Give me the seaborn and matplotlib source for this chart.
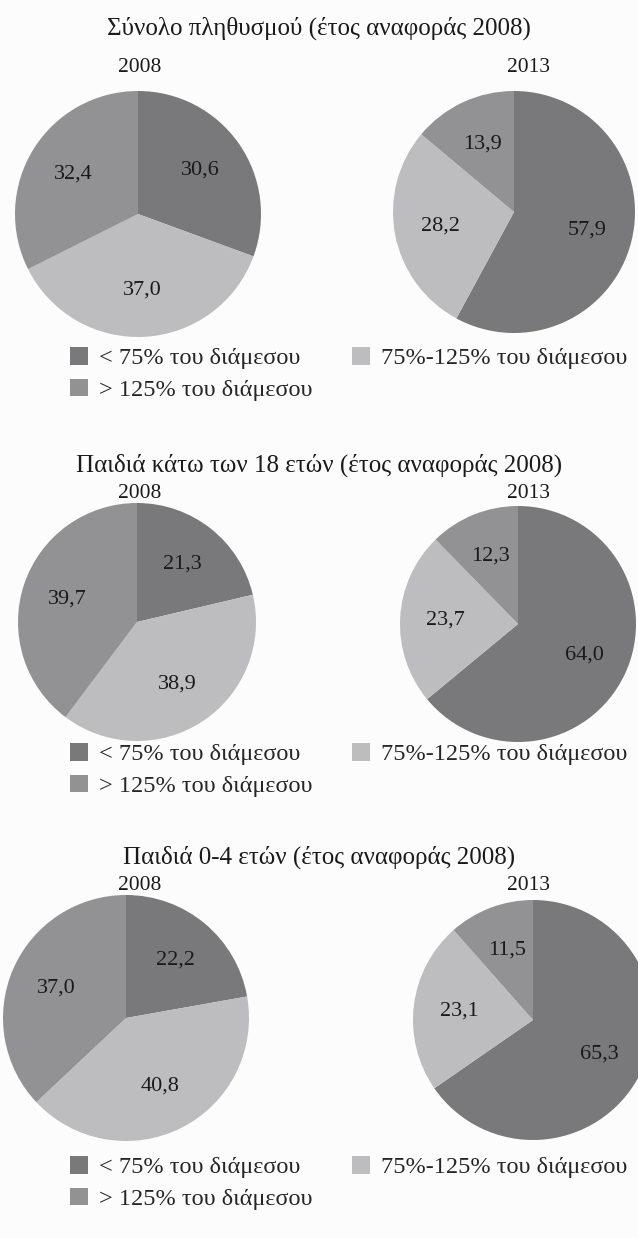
import numpy as np
import matplotlib
matplotlib.use('Agg')
import matplotlib.pyplot as plt
import seaborn as sns
from matplotlib.patches import Patch

# data
titles = ['Σύνολο πληθυσμού (έτος αναφοράς 2008)',
          'Παιδιά κάτω των 18 ετών (έτος αναφοράς 2008)',
          'Παιδιά 0-4 ετών (έτος αναφοράς 2008)']
years = ['2008', '2013']
categories = ['< 75% του διάμεσου', '75%-125% του διάμεσου', '> 125% του διάμεσου']
shares_2008 = [[30.6, 37.0, 32.4],
               [21.3, 38.9, 39.7],
               [22.2, 40.8, 37.0]]
shares_2013 = [[57.9, 28.2, 13.9],
               [64.0, 23.7, 12.3],
               [65.3, 23.1, 11.5]]

sns.set_theme(style='white')
plt.rcParams['font.family'] = ['Liberation Serif', 'DejaVu Serif']

colors = ['#79797c', '#bdbdbf', '#929295']
W, H = 638, 1238

# layout in pixels: title y, year label y, pie centres (x, y, r), legend top y
layout = [
    dict(title_y=28, year_y=68, pies=[(138, 214, 123), (514, 212, 121)], leg_y=347),
    dict(title_y=465, year_y=493, pies=[(137, 622, 119), (518, 624, 118)], leg_y=743),
    dict(title_y=857, year_y=885, pies=[(126, 1018, 123), (533, 1020, 120)], leg_y=1156),
]
year_x = [140, 528]

fig = plt.figure(figsize=(W / 100, H / 100), dpi=100)
fig.patch.set_facecolor('#fcfcfc')


def px_axes(cx, cy, r):
    return fig.add_axes([(cx - r) / W, 1 - (cy + r) / H, 2 * r / W, 2 * r / H])


def fmt(v):
    return f'{v:.1f}'.replace('.', ',')


for i, lay in enumerate(layout):
    fig.text(0.5, 1 - lay['title_y'] / H, titles[i], ha='center', va='center', fontsize=18, color='#1a1a1a')
    for j, vals in enumerate([shares_2008[i], shares_2013[i]]):
        fig.text(year_x[j] / W, 1 - lay['year_y'] / H, years[j], ha='center', va='center',
                 fontsize=15.5, color='#1a1a1a')
        cx, cy, r = lay['pies'][j]
        ax = px_axes(cx, cy, r)
        it = iter(vals)
        wedges, _, autotexts = ax.pie(vals, colors=colors, startangle=90, counterclock=False,
                                      autopct=lambda p: fmt(next(it)), pctdistance=0.62,
                                      wedgeprops=dict(linewidth=0),
                                      textprops=dict(fontsize=16, color='#1a1a1a'))
        ax.set_xlim(-1, 1)
        ax.set_ylim(-1, 1)
        ax.set_aspect('equal')
        ax.axis('off')
    handles = [Patch(facecolor=c, edgecolor='none') for c in colors]
    order = [0, 2, 1]
    fig.legend([handles[k] for k in order], [categories[k] for k in order],
               loc='upper left', bbox_to_anchor=(70 / W, 1 - lay['leg_y'] / H),
               ncol=2, frameon=False, fontsize=17.5, handlelength=0.75, handleheight=0.75,
               handletextpad=0.45, columnspacing=1.6, labelspacing=0.38, borderaxespad=0,
               borderpad=0)

fig.savefig('out.png', dpi=100, facecolor=fig.get_facecolor())
